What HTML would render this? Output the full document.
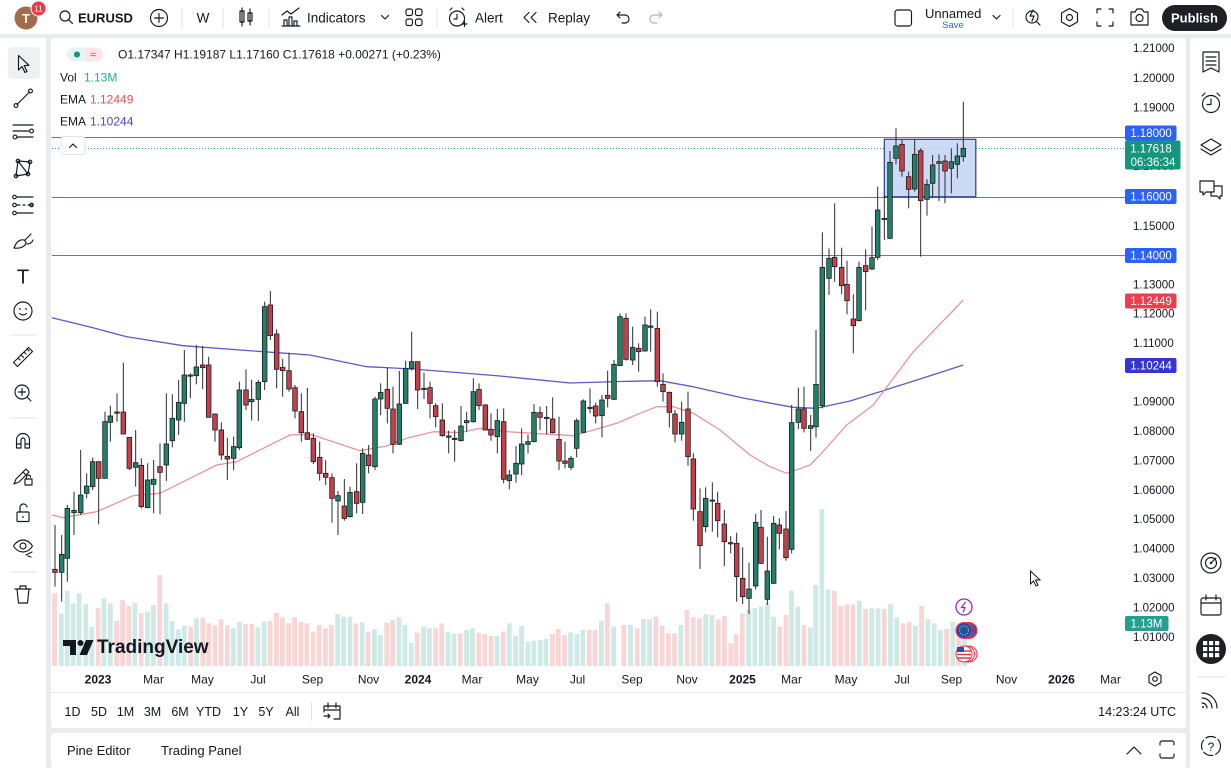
<!DOCTYPE html>
<html><head><meta charset="utf-8">
<style>
html,body{margin:0;padding:0;width:1231px;height:768px;overflow:hidden;background:#e9ebef;}
svg{display:block}
text{font-family:"Liberation Sans",sans-serif;fill:#131722;}
.ic{fill:none;stroke:#131722;stroke-width:1.15;stroke-linecap:round;stroke-linejoin:round}
.pa{font-size:11.5px}
</style></head><body>
<svg id="s" width="1231" height="768" viewBox="0 0 1231 768" xmlns="http://www.w3.org/2000/svg">
<rect width="1231" height="768" fill="#e9ebef"/>
<rect x="0" y="0" width="1231" height="34" fill="#fff"/>
<rect x="0" y="38" width="46" height="730" fill="#fff"/>
<rect x="1190" y="38" width="41" height="730" fill="#fff"/>
<rect x="51" y="38" width="1135" height="690" rx="3" fill="#fff"/>
<rect x="51" y="733" width="1135" height="35" rx="3" fill="#fff"/>

<!-- ===== TOP BAR ===== -->
<circle cx="26" cy="18" r="11.5" fill="#a46a4c"/>
<text x="26" y="23" font-size="13" font-weight="bold" text-anchor="middle" style="fill:#fff">T</text>
<circle cx="38.5" cy="8.5" r="7.5" fill="#f23645" stroke="#fff" stroke-width="1"/>
<text x="38.5" y="11.5" font-size="8.5" text-anchor="middle" style="fill:#fff">11</text>
<circle cx="65" cy="16" r="5" class="ic" stroke-width="1.6"/>
<line x1="68.8" y1="19.8" x2="72.5" y2="23.5" class="ic" stroke-width="1.6"/>
<text x="78" y="22.5" font-size="13" font-weight="bold">EURUSD</text>
<circle cx="159" cy="18" r="8.5" class="ic"/>
<path d="M159 13.5v9M154.5 18h9" class="ic"/>
<line x1="182" y1="8" x2="182" y2="28" stroke="#e0e3eb"/>
<text x="203" y="22.5" font-size="13.5" text-anchor="middle">W</text>
<line x1="223" y1="8" x2="223" y2="28" stroke="#e0e3eb"/>
<path d="M242 8v18M250 9v16" class="ic"/>
<rect x="240" y="11" width="4" height="11" fill="#fff" class="ic"/>
<rect x="248" y="13" width="4" height="8" fill="#fff" class="ic"/>
<line x1="269" y1="8" x2="269" y2="28" stroke="#e0e3eb"/>
<path d="M282 26h18M284 26v-6h3v6M289 26v-9h3v9M294 26v-5h3v5M282 15l5-4 4 3 8-6" class="ic"/>
<text x="307" y="22.5" font-size="13.5">Indicators</text>
<path d="M381.5 15.5l3.5 3.5 3.5-3.5" class="ic"/>
<rect x="406" y="9" width="6.5" height="6.5" rx="2" class="ic"/>
<rect x="415.5" y="9" width="6.5" height="6.5" rx="2" class="ic"/>
<rect x="406" y="19" width="6.5" height="6.5" rx="2" class="ic"/>
<rect x="415.5" y="19" width="6.5" height="6.5" rx="2" class="ic"/>
<line x1="437" y1="8" x2="437" y2="28" stroke="#e0e3eb"/>
<circle cx="457" cy="18.5" r="7.5" class="ic"/>
<path d="M457 14.5v4.5h-3M450 10l2-2M464 10l-2-2M462 24h5M464.5 21.5v5" class="ic"/>
<text x="475" y="22.5" font-size="13.5">Alert</text>
<path d="M529 12.5l-5 5 5 5M536 12.5l-5 5 5 5" class="ic"/>
<text x="548" y="22.5" font-size="13.5">Replay</text>
<path d="M617 15h8a4 4 0 0 1 0 8h-3M620 12l-3 3 3 3" class="ic"/>
<path d="M662 15h-8a4 4 0 0 0 0 8h3M659 12l3 3-3 3" class="ic" style="stroke:#b2b5be"/>
<rect x="895" y="10" width="16.5" height="16" rx="2.5" class="ic" stroke-width="1.3"/>
<text x="925" y="18" font-size="13">Unnamed</text>
<text x="953" y="28" font-size="9.5" text-anchor="middle" style="fill:#2962ff">Save</text>
<path d="M993 15.5l3.5 3.5 3.5-3.5" class="ic"/>
<line x1="1013" y1="8" x2="1013" y2="28" stroke="#e0e3eb"/>
<circle cx="1032" cy="17" r="6" class="ic"/>
<path d="M1036.5 21.5l3.5 3.5M1033 10l-3 6h4l-2 5" class="ic"/>
<path d="M1069.5 8.5l8 4.5v9l-8 4.5-8-4.5v-9z" class="ic"/>
<circle cx="1069.5" cy="17.5" r="3" class="ic"/>
<path d="M1097 13v-4h4M1109 9h4v4M1113 22v4h-4M1101 26h-4v-4" class="ic"/>
<path d="M1131 12h4l2-3h5l2 3h4v13h-17z" class="ic"/>
<circle cx="1139.5" cy="18" r="3.5" class="ic"/>
<rect x="1162" y="5" width="65" height="26" rx="13" fill="#1e2026"/>
<text x="1194.5" y="22.5" font-size="13" font-weight="bold" text-anchor="middle" style="fill:#fff">Publish</text>

<!-- ===== LEFT TOOLBAR ===== -->
<rect x="8" y="47" width="32" height="32" rx="4" fill="#eef0f4"/>
<path d="M18.5 55.5L18.5 70L22 66.5L25 72.5L27 71.5L24.2 65.6L29 65.3Z" class="ic"/>
<path d="M17 104.5L29.5 92" class="ic"/>
<circle cx="16" cy="105.5" r="1.9" class="ic" fill="#fff"/><circle cx="30.5" cy="91" r="1.9" class="ic" fill="#fff"/>
<path d="M13 125h20M13 131h16M17 137h16" class="ic"/>
<circle cx="31.5" cy="131" r="1.9" class="ic"/><circle cx="15" cy="137" r="1.9" class="ic"/>
<path d="M16 176L18 161L28 174L30 162M18 161L30 162M16 176L28 174" class="ic"/>
<circle cx="16" cy="176" r="1.8" fill="#fff" class="ic"/><circle cx="18" cy="161" r="1.8" fill="#fff" class="ic"/><circle cx="28" cy="174" r="1.8" fill="#fff" class="ic"/><circle cx="30" cy="162" r="1.8" fill="#fff" class="ic"/>
<path d="M17 197h16M17 205h3M23 205h2M28 205h5M17 213h16" class="ic"/>
<circle cx="14.5" cy="197" r="1.8" class="ic"/><circle cx="14.5" cy="205" r="1.8" class="ic"/><circle cx="14.5" cy="213" r="1.8" class="ic"/><circle cx="31.5" cy="205" r="1.8" class="ic"/>
<path d="M14 248c2-6 6-9 10-8l2 2c0 4-5 7-12 6zM25 240l6-6M27 244c2 0 5-1 6-4" class="ic"/>
<text x="23" y="283.5" font-size="20" text-anchor="middle">T</text>
<circle cx="23" cy="311" r="9" class="ic"/>
<circle cx="20" cy="309" r="0.9" fill="#131722"/><circle cx="26" cy="309" r="0.9" fill="#131722"/>
<path d="M19.5 313.5q3.5 3 7 0" class="ic"/>
<line x1="10" y1="335" x2="36" y2="335" stroke="#e0e3eb"/>
<path d="M13.5 362.5L28.5 347.5L32.5 351.5L17.5 366.5Z M18 358l2 2M21 355l2.5 2.5M24 352l2 2M27 349l2 2" class="ic"/>
<circle cx="22" cy="392" r="7" class="ic"/>
<path d="M22 388.5v7M18.5 392h7M27 397l4 4" class="ic"/>
<line x1="10" y1="418" x2="36" y2="418" stroke="#e0e3eb"/>
<path d="M16.5 448v-8a6.5 6.5 0 0 1 13 0v8h-4.5v-8a2 2 0 0 0-4 0v8zM16.5 444h4.5M25 444h4.5" class="ic"/>
<path d="M14 484l2-5 10-10 3 3-10 10zM23 472l3 3" class="ic"/>
<rect x="25" y="479" width="7" height="6" class="ic"/><path d="M26.5 479v-2a2 2 0 0 1 4 0" class="ic"/>
<rect x="17" y="512" width="12" height="9.5" rx="1" class="ic"/>
<path d="M20 512v-4a3.5 3.5 0 0 1 7-1" class="ic"/><circle cx="23" cy="517" r="0.9" fill="#131722"/>
<path d="M13.5 546c5-8 14-8 19 0c-5 8-14 8-19 0z" class="ic"/>
<circle cx="23" cy="546" r="3" class="ic"/>
<path d="M26 555l6-3M28 556l3 1" class="ic"/>
<line x1="10" y1="572" x2="36" y2="572" stroke="#e0e3eb"/>
<path d="M15 589h16M20 589v-3h6v3M17 589l1.5 14h9l1.5-14" class="ic"/>

<!-- ===== RIGHT SIDEBAR ===== -->
<path d="M1203 52h16v20l-8-4-8 4z M1206 57h10M1206 61h10M1206 65h10" class="ic"/>
<circle cx="1211" cy="104" r="8.5" class="ic"/>
<path d="M1211 99v5.5h-4M1202 96l3-3M1220 96l-3-3" class="ic"/>
<path d="M1211 139l10 6-10 6-10-6z M1201 149l10 6 10-6" class="ic"/>
<path d="M1200 181h14v11h-8l-3 3v-3h-3z M1214 186h8v10h-2v3l-3-3h-6v-4" class="ic"/>
<circle cx="1211" cy="563" r="10" class="ic"/>
<circle cx="1211" cy="563" r="5.5" class="ic"/>
<path d="M1211 563l5-5" class="ic"/><circle cx="1211" cy="563" r="1.2" fill="#131722"/>
<rect x="1201" y="598" width="20" height="17" rx="2" class="ic"/>
<path d="M1201 603h20M1206 595v5M1216 595v5" class="ic"/>
<circle cx="1211" cy="649" r="15" fill="#1e2026"/>
<g fill="#fff">
<rect x="1203" y="641" width="4.2" height="4.2"/><rect x="1209" y="641" width="4.2" height="4.2"/><rect x="1215" y="641" width="4.2" height="4.2"/>
<rect x="1203" y="647" width="4.2" height="4.2"/><rect x="1209" y="647" width="4.2" height="4.2"/><rect x="1215" y="647" width="4.2" height="4.2"/>
<rect x="1203" y="653" width="4.2" height="4.2"/><rect x="1209" y="653" width="4.2" height="4.2"/><rect x="1215" y="653" width="4.2" height="4.2"/>
</g>
<line x1="1197" y1="677" x2="1226" y2="677" stroke="#e0e3eb"/>
<path d="M1202 693a15 15 0 0 1 15 15M1202 698a10 10 0 0 1 10 10M1202 703a5 5 0 0 1 5 5" class="ic"/>
<circle cx="1203" cy="707" r="1" fill="#131722"/>
<circle cx="1211" cy="746" r="9.5" class="ic" stroke-dasharray="10 3"/>
<text x="1211" y="751" font-size="12" text-anchor="middle">?</text>

<!-- ===== CHART ===== -->
<g id="vol"></g>
<!-- horizontal lines -->
<line x1="52" y1="137.5" x2="1125" y2="137.5" stroke="#5b78c0" stroke-width="1"/>
<line x1="52" y1="197.5" x2="1125" y2="197.5" stroke="#5b78c0" stroke-width="1"/>
<line x1="52" y1="255.5" x2="1125" y2="255.5" stroke="#5b78c0" stroke-width="1"/>
<line x1="52" y1="148.5" x2="1125" y2="148.5" stroke="#22a08a" stroke-width="1" stroke-dasharray="1 2"/>
<rect x="884.3" y="139.3" width="91.5" height="57.5" fill="#c4d3f5" fill-opacity="0.85" stroke="#22408a" stroke-width="1.2"/>
<polyline id="emaB" fill="none" stroke="#5a5ad2" stroke-width="1.3" stroke-linejoin="round"
 points="52,317.7 90,327 126.7,336.7 183,345.7 263,351.7 310,355 366.7,366.7 413,369 500,376 570,383 620,381.5 660,380.7 693,386.7 743,398 793,407.3 816.7,408.3 850,401 880,391.7 920,379 963.3,365"/>
<polyline id="emaR" fill="none" stroke="#e8959b" stroke-width="1.3" stroke-linejoin="round"
 points="52,515 63,517.7 96.7,511.7 133,495.7 160,493.3 190,478.3 216.7,465 236.7,461.7 263.3,448.3 290,435 310,434.3 333,441.7 360,450.7 386.7,446 406.7,438.3 433.3,431.7 460,432.7 480,428.3 506.7,431.7 533.3,433.3 573.3,435.7 593.3,430 616.7,423.3 640,413.3 656.7,406.7 673.3,406.7 693.3,413.3 720,430 750,455 770,466.7 786.7,473.3 810,465 820,455 846.7,425 873.3,405 913.3,351.7 963.3,300"/>
<g id="cnd"></g>

<!-- legend -->
<rect x="67" y="47.5" width="36" height="14" rx="7" fill="#e6f4f1"/>
<path d="M85 47.5h11a7 7 0 0 1 0 14h-11z" fill="#fde4e7"/>
<circle cx="77" cy="54.5" r="3" fill="#089981"/>
<text x="93" y="58" font-size="11" text-anchor="middle" style="fill:#f23645">≈</text>
<text x="118" y="58.5" font-size="12">O1.17347 H1.19187 L1.17160 C1.17618 +0.00271 (+0.23%)</text>
<text x="60" y="81.5" font-size="12">Vol</text>
<text x="84" y="81.5" font-size="12" style="fill:#22ab94">1.13M</text>
<text x="60" y="103.5" font-size="12">EMA</text>
<text x="90" y="103.5" font-size="12" style="fill:#e0525f">1.12449</text>
<text x="60" y="125.5" font-size="12">EMA</text>
<text x="90" y="125.5" font-size="12" style="fill:#4545d0">1.10244</text>
<rect x="61" y="136.5" width="24" height="18" rx="3" fill="#fff" stroke="#e0e3eb"/>
<path d="M69.5 147.5l3.5-3.5 3.5 3.5" class="ic"/>

<!-- TradingView logo -->
<path d="M63 640h13v15h-6v-9h-7z" fill="#131722"/>
<circle cx="80.5" cy="643" r="3" fill="#131722"/>
<path d="M86 640h7.5l-6.5 15h-7.5z" fill="#131722"/>
<text x="97" y="653" font-size="19" font-weight="bold">TradingView</text>

<!-- event icons -->
<circle cx="964" cy="607" r="8" fill="#fff" stroke="#9c27b0" stroke-width="1.3"/>
<path d="M965.5 602l-4 5.5h3.5l-2 5" fill="none" stroke="#9c27b0" stroke-width="1.2"/>
<circle cx="969" cy="630.5" r="8" fill="#2050b8" stroke="#f23645" stroke-width="1"/>
<circle cx="966.5" cy="630.5" r="8" fill="#2050b8" stroke="#f23645" stroke-width="1"/>
<circle cx="964" cy="630.5" r="8" fill="#1f4fb5" stroke="#f23645" stroke-width="1"/>
<circle cx="964" cy="630.5" r="4.5" fill="none" stroke="#ffd54f" stroke-width="1" stroke-dasharray="1 1.6"/>
<circle cx="969" cy="654" r="8" fill="#fff" stroke="#f23645" stroke-width="1"/>
<circle cx="966.5" cy="654" r="8" fill="#fff" stroke="#f23645" stroke-width="1"/>
<circle cx="964" cy="654" r="8" fill="#fff" stroke="#f23645" stroke-width="1"/>
<path d="M957 651h14M957 654.5h14M957.5 658h13" stroke="#e53946" stroke-width="1.5"/>
<rect x="957" y="647" width="7" height="5" fill="#2a4fb0"/>

<!-- cursor -->
<path d="M1030.5 571v13l3-3 2.5 5 2-1-2.5-5h4.5z" fill="#fff" stroke="#131722" stroke-width="1"/>

<!-- price axis -->
<g class="pa">
<text x="1133" y="52">1.21000</text>
<text x="1133" y="82">1.20000</text>
<text x="1133" y="111.5">1.19000</text>
<text x="1133" y="170">1.17000</text>
<text x="1133" y="230">1.15000</text>
<text x="1133" y="288.5">1.13000</text>
<text x="1133" y="317.5">1.12000</text>
<text x="1133" y="347">1.11000</text>
<text x="1133" y="405.5">1.09000</text>
<text x="1133" y="435">1.08000</text>
<text x="1133" y="464.5">1.07000</text>
<text x="1133" y="494">1.06000</text>
<text x="1133" y="523">1.05000</text>
<text x="1133" y="552.5">1.04000</text>
<text x="1133" y="582">1.03000</text>
<text x="1133" y="611.5">1.02000</text>
<text x="1133" y="641">1.01000</text>
</g>
<rect x="1125" y="125.5" width="51.5" height="15" rx="2" fill="#2962ff"/>
<text x="1151" y="137" font-size="11.5" text-anchor="middle" style="fill:#fff">1.18000</text>
<rect x="1125" y="140.5" width="55.5" height="29" rx="2" fill="#14957c"/>
<text x="1151" y="152.5" font-size="11.5" text-anchor="middle" style="fill:#fff">1.17618</text>
<text x="1153" y="166" font-size="11.5" text-anchor="middle" style="fill:#fff">06:36:34</text>
<rect x="1125" y="189" width="51.5" height="15" rx="2" fill="#2962ff"/>
<text x="1151" y="200.5" font-size="11.5" text-anchor="middle" style="fill:#fff">1.16000</text>
<rect x="1125" y="248" width="51.5" height="15" rx="2" fill="#2962ff"/>
<text x="1151" y="259.5" font-size="11.5" text-anchor="middle" style="fill:#fff">1.14000</text>
<rect x="1125" y="293.5" width="51.5" height="15" rx="2" fill="#eb3f4e"/>
<text x="1151" y="305" font-size="11.5" text-anchor="middle" style="fill:#fff">1.12449</text>
<rect x="1125" y="358" width="51.5" height="15" rx="2" fill="#3535cf"/>
<text x="1151" y="369.5" font-size="11.5" text-anchor="middle" style="fill:#fff">1.10244</text>
<rect x="1125" y="616" width="43.5" height="15" rx="2" fill="#23a08f"/>
<text x="1146.5" y="627.5" font-size="11.5" text-anchor="middle" style="fill:#fff">1.13M</text>

<!-- time axis -->
<g font-size="12" text-anchor="middle">
<text x="98" y="683.5" font-weight="bold">2023</text>
<text x="153.5" y="683.5">Mar</text>
<text x="202.5" y="683.5">May</text>
<text x="258" y="683.5">Jul</text>
<text x="312.5" y="683.5">Sep</text>
<text x="368.5" y="683.5">Nov</text>
<text x="418" y="683.5" font-weight="bold">2024</text>
<text x="472" y="683.5">Mar</text>
<text x="527.5" y="683.5">May</text>
<text x="577.5" y="683.5">Jul</text>
<text x="632" y="683.5">Sep</text>
<text x="687" y="683.5">Nov</text>
<text x="742.5" y="683.5" font-weight="bold">2025</text>
<text x="791.5" y="683.5">Mar</text>
<text x="846" y="683.5">May</text>
<text x="902" y="683.5">Jul</text>
<text x="951.5" y="683.5">Sep</text>
<text x="1006.5" y="683.5">Nov</text>
<text x="1061.5" y="683.5" font-weight="bold">2026</text>
<text x="1110.5" y="683.5">Mar</text>
</g>
<path d="M1155 672l6 3.5v7l-6 3.5-6-3.5v-7z" class="ic"/>
<circle cx="1155" cy="679" r="2.3" class="ic"/>
<line x1="51" y1="692.5" x2="1186" y2="692.5" stroke="#e6e8ed"/>

<!-- range bar -->
<g font-size="12.5" text-anchor="middle">
<text x="72.5" y="716">1D</text>
<text x="99" y="716">5D</text>
<text x="125.5" y="716">1M</text>
<text x="152.5" y="716">3M</text>
<text x="180" y="716">6M</text>
<text x="208.5" y="716">YTD</text>
<text x="240.5" y="716">1Y</text>
<text x="266" y="716">5Y</text>
<text x="292.5" y="716">All</text>
</g>
<line x1="311.5" y1="702" x2="311.5" y2="721" stroke="#e0e3eb"/>
<path d="M324 706h16v13h-6M324 706v6M324 710h16M328 703v5M336 703v5M324 716h6l-2-2M330 716l-2 2" class="ic"/>
<text x="1176" y="716" font-size="12.5" text-anchor="end">14:23:24 UTC</text>

<!-- bottom panel -->
<text x="67" y="755" font-size="13">Pine Editor</text>
<text x="161" y="755" font-size="13">Trading Panel</text>
<path d="M1127 754l7-7 7 7" class="ic"/>
<path d="M1160 745v-2a2 2 0 0 1 2-2h10a2 2 0 0 1 2 2v2M1174 754v2a2 2 0 0 1-2 2h-10a2 2 0 0 1-2-2v-2" class="ic"/>
</svg>
<script>
(function(){
var NS="http://www.w3.org/2000/svg";
var z5=[[15,853,862,720,905,0],[35,808,862,750,950,1],[52,670,820,660,890,1],[72,676,683,620,750,1],[92,630,683,495,690,1],[110,603,625,565,640,1],[128,530,605,518,615,1],[146,530,580,530,718,0],[165,410,580,380,580,1],[181,393,412,362,470,1],[201,381,383,325,410,1],[220,381,447,233,447,0],[238,457,550,457,555,0],[257,533,547,435,605,1],[274,541,665,520,670,0],[293,585,668,535,670,1],[311,583,598,525,685,1],[330,545,562,475,688,0],[349,477,540,325,588,1],[367,400,467,328,487,1],[386,352,405,285,450,1],[403,270,355,195,410,1],[421,270,272,265,340,1],[439,246,272,180,298,1],[458,240,248,183,312,0],[476,240,397,215,397,0],[495,387,435,385,470,0],[514,435,510,412,525,0],[532,514,522,458,585,0],[551,485,520,455,555,1],[568,315,488,290,495,1],[588,315,360,253,375,0],[605,343,350,285,407,1],[625,292,343,285,408,1],[644,65,290,50,315,1],[661,60,152,18,165,0],[680,147,253,133,310,0],[698,247,257,222,335,0],[717,257,312,203,320,0],[735,308,378,300,400,0],[754,380,443,325,470,0]];
var z6=[[22,428,448,294,450,0],[40,445,515,430,522,0],[59,502,550,455,572,0],[77,550,562,510,585,0],[96,563,625,550,698,0],[114,617,633,603,735,1],[133,648,685,567,692,0],[150,607,680,590,683,1],[170,605,640,520,670,0],[188,490,637,475,672,1],[206,495,527,465,550,0],[225,327,530,320,540,1],[242,307,327,280,375,1],[262,298,355,233,400,0],[279,357,463,290,490,0],[298,342,463,243,465,1],[317,235,340,212,342,1],[335,215,235,125,242,1],[353,215,300,215,357,0],[372,295,298,248,327,1],[390,293,340,275,385,0],[407,347,380,340,412,0],[427,390,437,340,440,0],[446,438,440,422,490,1],[464,445,448,420,515,1],[483,408,452,348,455,1],[500,392,398,365,425,1],[520,305,395,265,398,1],[537,298,347,280,360,0],[556,345,420,342,420,0],[573,418,435,370,452,0],[592,392,440,357,490,1],[611,395,568,355,580,0],[628,555,572,540,598,1],[648,520,552,468,578,1],[665,462,522,415,555,1],[684,455,463,433,490,1],[702,367,455,342,457,1],[720,368,382,350,420,0],[740,382,384,348,432,1],[758,387,428,322,430,0],[777,448,513,380,540,0]];
var z7=[[15,513,520,455,535,0],[33,505,532,498,540,1],[50,392,475,385,502,1],[70,333,427,328,428,1],[90,352,355,295,370,1],[107,348,378,338,400,0],[126,330,377,315,442,1],[143,316,325,242,352,0],[162,223,328,210,330,1],[180,80,227,70,228,1],[198,85,208,70,212,0],[218,172,210,110,225,1],[236,175,185,160,245,0],[255,105,183,80,185,1],[272,108,112,58,185,1],[292,115,275,65,290,0],[309,283,305,250,335,0],[328,307,367,305,412,0],[345,372,432,360,457,0],[365,397,432,335,452,1],[384,357,500,305,527,0],[400,507,657,490,692,0],[420,665,767,595,837,0],[437,625,710,592,727,1],[457,630,632,577,725,1],[473,640,692,605,742,0],[493,702,755,660,828,0],[512,758,760,738,790,0],[530,760,860,728,935,0],[548,865,920,772,942,0],[567,897,925,818,972,1],[587,697,888,672,898,1],[603,712,820,660,822,0],[622,843,928,740,945,1],[641,700,880,678,882,1],[658,705,730,685,778,0],[678,717,803,663,812,0]];
var z8=[[35,983,1363,930,1375,1],[55,942,982,878,1002,1],[72,942,1000,875,1012,0],[92,992,1000,960,1068,1],[108,868,995,705,1028,1],[127,517,932,412,940,1],[147,490,550,460,600,1],[164,487,515,325,560,0],[185,517,572,458,598,0],[201,568,617,497,658,0],[220,672,692,598,775,0],[237,517,677,500,680,1],[257,512,530,463,645,0],[276,488,522,395,525,1],[293,345,487,275,495,1],[313,370,372,300,435,1],[330,202,430,168,432,1],[348,153,190,100,208,1],[366,148,228,135,245,0],[386,245,283,230,340,0],[404,178,282,132,290,1],[422,167,317,160,485,0],[441,268,313,253,362,1],[458,210,265,180,310,1],[477,200,205,178,318,1],[495,198,228,180,325,0],[514,200,220,160,295,1],[532,183,208,145,250,1],[550,160,185,20,200,1]];
var sets=[[50,285,z5],[300,290,z6],[560,290,z7],[780,95,z8]];
var g=document.getElementById('cnd');
function el(n,a){var e=document.createElementNS(NS,n);for(var k in a)e.setAttribute(k,a[k]);return e;}
sets.forEach(function(s){s[2].forEach(function(c){
 var x=s[0]+c[0]/3, bt=s[1]+c[1]/3, bb=s[1]+c[2]/3, wt=s[1]+c[3]/3, wb=s[1]+c[4]/3;
 g.appendChild(el('line',{x1:x,x2:x,y1:wt,y2:wb,stroke:'#2b2b2b','stroke-width':1}));
 var h=Math.max(bb-bt,1.2);
 g.appendChild(el('rect',{x:x-2.3,y:bt,width:4.6,height:h,fill:c[5]?'#23806b':'#c53f4c',stroke:'#1d1d1d','stroke-width':0.8}));
});});
var v3=[[138,100,0],[155,160,1],[170,92,1],[185,130,1],[200,100,1],[217,132,1],[232,200,1],[248,145,0],[263,115,1],[279,130,1],[295,183,0],[310,120,0],[326,138,0],[341,128,1],[357,160,0],[373,155,1],[388,135,1],[404,45,0],[420,130,1],[435,183,1],[451,208,1],[466,197,1],[482,200,0],[497,175,1],[513,172,0],[528,190,0],[544,196,0],[559,178,0],[575,196,0],[590,205,1],[606,186,1],[621,192,0],[637,192,0],[652,202,1],[668,185,1],[683,183,0],[699,158,0],[714,172,0],[730,190,0],[745,172,0],[761,186,0],[776,190,0],[792,215,0],[807,195,0],[823,205,0],[838,195,0],[854,162,1],[869,170,1],[885,170,1],[900,190,0],[916,187,1],[931,215,0],[947,207,1],[962,225,1],[978,188,0],[993,180,0],[1009,172,1],[1024,195,1],[1040,248,1],[1055,218,0],[1071,200,1],[1086,205,1],[1102,205,0],[1117,190,0],[1133,215,1],[1148,220,1],[1164,220,0],[1180,210,1],[1195,205,1],[1211,218,0],[1226,222,0],[1242,228,0],[1257,228,1],[1273,215,0],[1288,190,1],[1304,228,1],[1319,198,1],[1335,245,1],[1350,242,1],[1366,240,1],[1381,237,1],[1397,222,0],[1412,207,0],[1428,225,0],[1443,217,1],[1459,222,1],[1474,210,1],[1490,210,0],[1505,210,0],[1521,182,1],[1536,130,0],[1552,200,1]];
var v4=[[10,195,0],[27,195,1],[44,205,0],[60,177,1],[76,178,1],[92,170,0],[108,197,0],[124,220,0],[140,220,0],[156,195,1],[172,150,0],[188,172,0],[204,175,0],[220,162,1],[236,165,1],[252,178,0],[268,167,0],[284,250,0],[298,223,0],[314,160,0],[330,150,1],[346,145,1],[362,140,1],[378,130,1],[394,170,1],[410,200,0],[426,165,0],[440,92,1],[456,140,1],[472,195,0],[488,202,1],[502,75,1],[518,-153,1],[534,88,1],[550,92,0],[566,137,0],[582,133,0],[598,133,0],[614,122,1],[630,147,0],[646,145,1],[662,145,1],[678,147,0],[694,133,1],[710,172,1],[726,190,0],[742,185,0],[758,198,1],[774,138,0],[790,178,1],[806,190,1],[822,210,1],[838,207,0],[854,185,1],[869,190,0],[884,190,1]];
var vg=document.getElementById('vol');
function vb(x,top,up){vg.appendChild(el('rect',{x:x-2.4,y:top,width:4.8,height:Math.max(666-top,1),fill:up?'#cdeae6':'#f9d6d6'}));}
v3.forEach(function(v){vb(v[0]/2.529,560+v[1]/3,v[2]);});
v4.forEach(function(v){vb(620+v[0]/2.566,560+v[1]/3,v[2]);});
})();
</script>
</body></html>
